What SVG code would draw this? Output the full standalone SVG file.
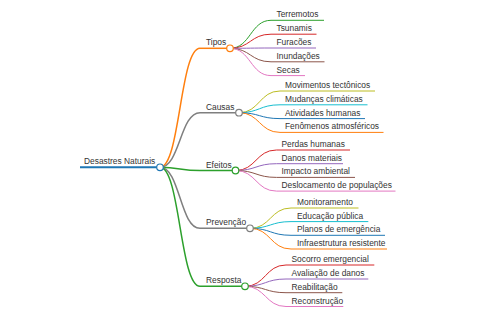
<svg xmlns="http://www.w3.org/2000/svg" width="480" height="320" viewBox="0 0 480 320">
<style>
text{font-family:"Liberation Sans",Arial,Helvetica,sans-serif;font-size:8.4px;fill:#333}
.l1{fill:none;stroke-width:1.5}
.l2{fill:none;stroke-width:1}
circle{fill:#fff;stroke-width:1.2}
</style>
<rect width="480" height="320" fill="#fff"/>
<g id="connectors">
<path class="l1" stroke="#ff7f0e" d="M160,167.3 C180,167.3 180,48.3 200,48.3"/>
<path class="l1" stroke="#7f7f7f" d="M160,167.3 C180,167.3 180,112.7 200,112.7"/>
<path class="l1" stroke="#2ca02c" d="M160,167.3 C180,167.3 180,170.5 200,170.5"/>
<path class="l1" stroke="#7f7f7f" d="M160,167.3 C180,167.3 180,228.3 200,228.3"/>
<path class="l1" stroke="#2ca02c" d="M160,167.3 C180,167.3 180,286.3 200,286.3"/>
<path class="l2" stroke="#2ca02c" d="M230,48.3 C250.5,48.3 250.5,20.3 271,20.3"/>
<path class="l2" stroke="#d62728" d="M230,48.3 C250.5,48.3 250.5,34.2 271,34.2"/>
<path class="l2" stroke="#9467bd" d="M230,48.3 C250.5,48.3 250.5,48 271,48"/>
<path class="l2" stroke="#8c564b" d="M230,48.3 C250.5,48.3 250.5,61.8 271,61.8"/>
<path class="l2" stroke="#e377c2" d="M230,48.3 C250.5,48.3 250.5,75.6 271,75.6"/>
<path class="l2" stroke="#bcbd22" d="M239,112.7 C259.5,112.7 259.5,91 280,91"/>
<path class="l2" stroke="#17becf" d="M239,112.7 C259.5,112.7 259.5,104.8 280,104.8"/>
<path class="l2" stroke="#1f77b4" d="M239,112.7 C259.5,112.7 259.5,118.6 280,118.6"/>
<path class="l2" stroke="#ff7f0e" d="M239,112.7 C259.5,112.7 259.5,132.4 280,132.4"/>
<path class="l2" stroke="#d62728" d="M235.5,170.5 C256,170.5 256,150 276.5,150"/>
<path class="l2" stroke="#9467bd" d="M235.5,170.5 C256,170.5 256,163.7 276.5,163.7"/>
<path class="l2" stroke="#8c564b" d="M235.5,170.5 C256,170.5 256,177.4 276.5,177.4"/>
<path class="l2" stroke="#e377c2" d="M235.5,170.5 C256,170.5 256,191.1 276.5,191.1"/>
<path class="l2" stroke="#bcbd22" d="M250,228.3 C270.5,228.3 270.5,208 291,208"/>
<path class="l2" stroke="#17becf" d="M250,228.3 C270.5,228.3 270.5,221.6 291,221.6"/>
<path class="l2" stroke="#1f77b4" d="M250,228.3 C270.5,228.3 270.5,235.3 291,235.3"/>
<path class="l2" stroke="#ff7f0e" d="M250,228.3 C270.5,228.3 270.5,249 291,249"/>
<path class="l2" stroke="#d62728" d="M245,286.3 C265.5,286.3 265.5,265 286,265"/>
<path class="l2" stroke="#9467bd" d="M245,286.3 C265.5,286.3 265.5,279 286,279"/>
<path class="l2" stroke="#8c564b" d="M245,286.3 C265.5,286.3 265.5,292.7 286,292.7"/>
<path class="l2" stroke="#e377c2" d="M245,286.3 C265.5,286.3 265.5,306.5 286,306.5"/>
</g>
<g id="root">
<line x1="80" y1="167.3" x2="160" y2="167.3" stroke="#1f77b4" stroke-width="2"/>
<text x="84" y="164">Desastres Naturais</text>
<circle cx="160" cy="167.3" r="3.3" stroke="#1f77b4"/>
</g>
<g id="tipos">
<line x1="200" y1="48.3" x2="230" y2="48.3" stroke="#ff7f0e" stroke-width="1.5"/>
<text x="206" y="45.3">Tipos</text>
<circle cx="230" cy="48.3" r="3.3" stroke="#ff7f0e"/>
</g>
<g id="terremotos"><line x1="271" y1="20.3" x2="324" y2="20.3" stroke="#2ca02c"/><text x="276.5" y="17.3">Terremotos</text></g>
<g id="tsunamis"><line x1="271" y1="34.2" x2="316.5" y2="34.2" stroke="#d62728"/><text x="276.5" y="31.2">Tsunamis</text></g>
<g id="furacoes"><line x1="271" y1="48" x2="316" y2="48" stroke="#9467bd"/><text x="276.5" y="45">Furacões</text></g>
<g id="inundacoes"><line x1="271" y1="61.8" x2="324.5" y2="61.8" stroke="#8c564b"/><text x="276.5" y="58.8">Inundações</text></g>
<g id="secas"><line x1="271" y1="75.6" x2="305" y2="75.6" stroke="#e377c2"/><text x="276.5" y="72.6">Secas</text></g>
<g id="causas">
<line x1="200" y1="112.7" x2="239" y2="112.7" stroke="#7f7f7f" stroke-width="1.5"/>
<text x="206" y="109.7">Causas</text>
<circle cx="239" cy="112.7" r="3.3" stroke="#7f7f7f"/>
</g>
<g id="movimentos"><line x1="280" y1="91" x2="375" y2="91" stroke="#bcbd22"/><text x="285" y="88">Movimentos tectônicos</text></g>
<g id="mudancas"><line x1="280" y1="104.8" x2="367.5" y2="104.8" stroke="#17becf"/><text x="285" y="101.8">Mudanças climáticas</text></g>
<g id="atividades"><line x1="280" y1="118.6" x2="365" y2="118.6" stroke="#1f77b4"/><text x="285" y="115.6">Atividades humanas</text></g>
<g id="fenomenos"><line x1="280" y1="132.4" x2="383.5" y2="132.4" stroke="#ff7f0e"/><text x="285" y="129.4">Fenômenos atmosféricos</text></g>
<g id="efeitos">
<line x1="200" y1="170.5" x2="235.5" y2="170.5" stroke="#2ca02c" stroke-width="1.5"/>
<text x="206" y="167.5">Efeitos</text>
<circle cx="235.5" cy="170.5" r="3.3" stroke="#2ca02c"/>
</g>
<g id="perdas"><line x1="276.5" y1="150" x2="350" y2="150" stroke="#d62728"/><text x="281.5" y="147">Perdas humanas</text></g>
<g id="danos"><line x1="276.5" y1="163.7" x2="343" y2="163.7" stroke="#9467bd"/><text x="281.5" y="160.7">Danos materiais</text></g>
<g id="impacto"><line x1="276.5" y1="177.4" x2="355" y2="177.4" stroke="#8c564b"/><text x="281.5" y="174.4">Impacto ambiental</text></g>
<g id="deslocamento"><line x1="276.5" y1="191.1" x2="395.5" y2="191.1" stroke="#e377c2"/><text x="281.5" y="188.1">Deslocamento de populações</text></g>
<g id="prevencao">
<line x1="200" y1="228.3" x2="250" y2="228.3" stroke="#7f7f7f" stroke-width="1.5"/>
<text x="206" y="225.3">Prevenção</text>
<circle cx="250" cy="228.3" r="3.3" stroke="#7f7f7f"/>
</g>
<g id="monitoramento"><line x1="291" y1="208" x2="358.5" y2="208" stroke="#bcbd22"/><text x="297" y="205">Monitoramento</text></g>
<g id="educacao"><line x1="291" y1="221.6" x2="368.3" y2="221.6" stroke="#17becf"/><text x="297" y="218.6">Educação pública</text></g>
<g id="planos"><line x1="291" y1="235.3" x2="385" y2="235.3" stroke="#1f77b4"/><text x="297" y="232.3">Planos de emergência</text></g>
<g id="infraestrutura"><line x1="291" y1="249" x2="387" y2="249" stroke="#ff7f0e"/><text x="297" y="246">Infraestrutura resistente</text></g>
<g id="resposta">
<line x1="200" y1="286.3" x2="245" y2="286.3" stroke="#2ca02c" stroke-width="1.5"/>
<text x="206" y="283.3">Resposta</text>
<circle cx="245" cy="286.3" r="3.3" stroke="#2ca02c"/>
</g>
<g id="socorro"><line x1="286" y1="265" x2="374.3" y2="265" stroke="#d62728"/><text x="291.5" y="262">Socorro emergencial</text></g>
<g id="avaliacao"><line x1="286" y1="279" x2="368.3" y2="279" stroke="#9467bd"/><text x="291.5" y="276">Avaliação de danos</text></g>
<g id="reabilitacao"><line x1="286" y1="292.7" x2="342.3" y2="292.7" stroke="#8c564b"/><text x="291.5" y="289.7">Reabilitação</text></g>
<g id="reconstrucao"><line x1="286" y1="306.5" x2="343.3" y2="306.5" stroke="#e377c2"/><text x="291.5" y="303.5">Reconstrução</text></g>
</svg>
